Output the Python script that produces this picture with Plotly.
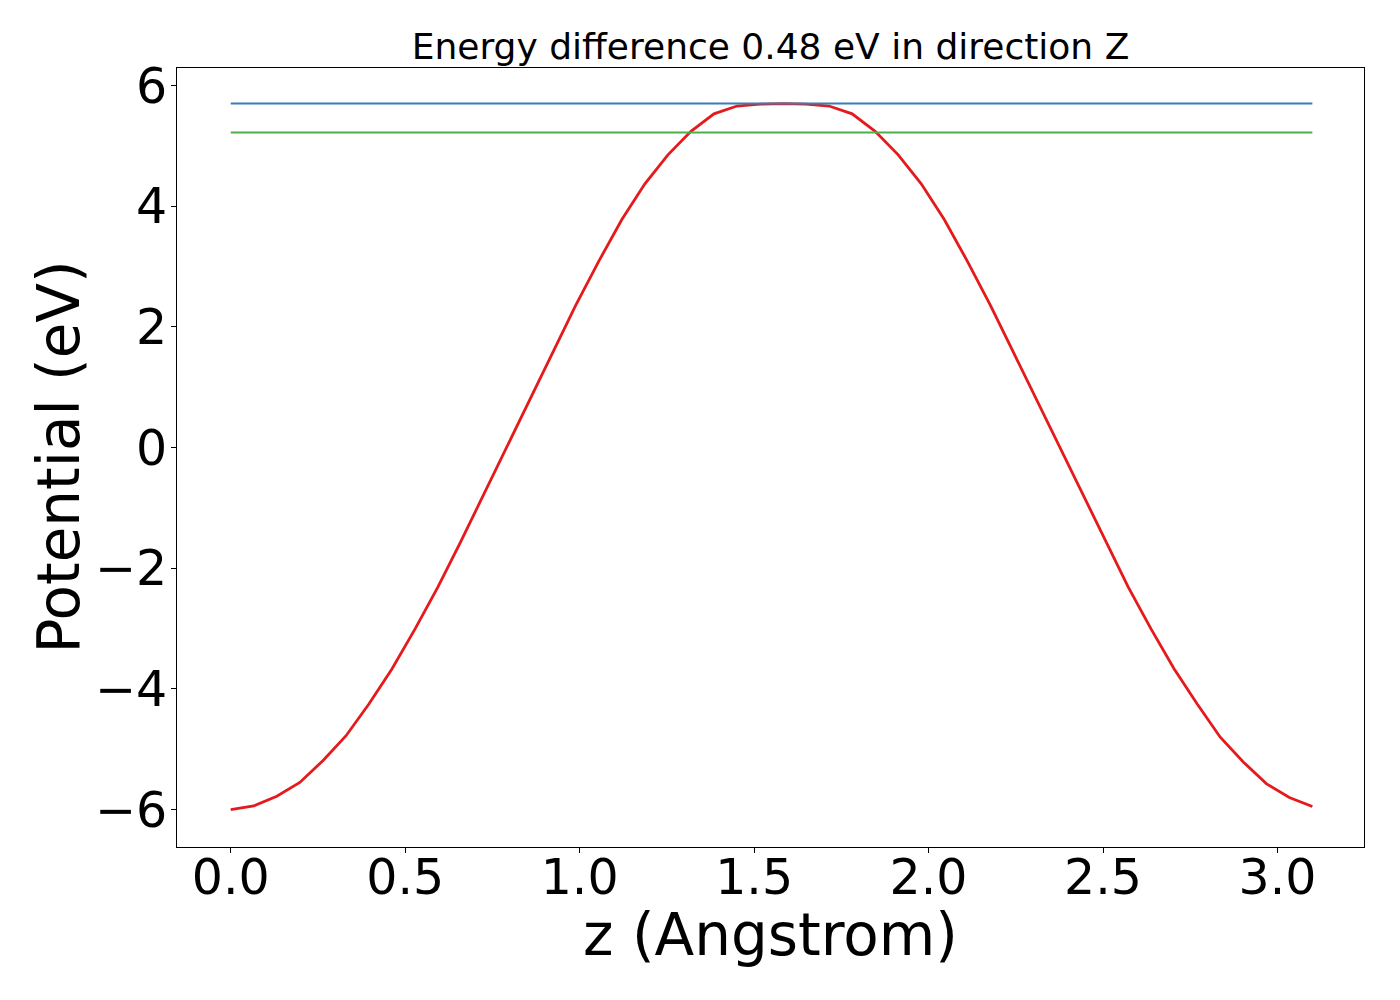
import plotly.graph_objects as go

# z grid (Angstrom) and potential (eV)
z = [0.000, 0.066, 0.132, 0.198, 0.264, 0.330, 0.396, 0.462, 0.528, 0.594,
     0.660, 0.726, 0.791, 0.857, 0.923, 0.989, 1.055, 1.121, 1.187, 1.253,
     1.319, 1.385, 1.451, 1.517, 1.583, 1.649, 1.715, 1.781, 1.847, 1.913,
     1.979, 2.045, 2.111, 2.177, 2.243, 2.309, 2.374, 2.440, 2.506, 2.572,
     2.638, 2.704, 2.770, 2.836, 2.902, 2.968, 3.034, 3.100]
potential = [-6.00, -5.94, -5.78, -5.55, -5.19, -4.78, -4.25, -3.67, -3.01, -2.31,
             -1.55, -0.77, 0.02, 0.80, 1.58, 2.36, 3.09, 3.78, 4.37, 4.85,
             5.24, 5.53, 5.66, 5.69, 5.70, 5.69, 5.66, 5.53, 5.24, 4.85,
             4.37, 3.78, 3.09, 2.36, 1.58, 0.80, 0.02, -0.77, -1.55, -2.31,
             -3.01, -3.67, -4.25, -4.80, -5.21, -5.57, -5.80, -5.95]

# horizontal reference levels
level_x = [0.0, 3.1]
max_level = [5.70, 5.70]
min_level = [5.22, 5.22]

FONT = "DejaVu Sans"

fig = go.Figure()
fig.add_trace(go.Scatter(x=z, y=potential, mode="lines",
                         line=dict(color="#e41a1c", width=2.8)))
fig.add_trace(go.Scatter(x=level_x, y=max_level, mode="lines",
                         line=dict(color="#377eb8", width=2)))
fig.add_trace(go.Scatter(x=level_x, y=min_level, mode="lines",
                         line=dict(color="#4daf4a", width=2)))

axis_common = dict(
    showgrid=False, zeroline=False, showline=True, mirror=True,
    linecolor="black", linewidth=1.1, ticks="outside", ticklen=5,
    tickwidth=1.1, tickcolor="black",
    tickfont=dict(family=FONT, size=49, color="black"),
)

# the page puts the figure 8px in from the top-left corner
fig.update_layout(
    width=1400, height=1000,
    margin=dict(l=169, r=44, t=60, b=161),
    paper_bgcolor="white", plot_bgcolor="white",
    showlegend=False,
    font=dict(family=FONT, color="black"),
    title=dict(text="Energy difference 0.48 eV in direction Z",
               x=(169 + 1356) / 2 / 1400, xanchor="center",
               y=0.962, yanchor="middle",
               font=dict(family=FONT, size=36, color="black")),
    xaxis=dict(range=[-0.154, 3.248], tickmode="linear", tick0=0, dtick=0.5,
               tickformat=".1f", ticklabelstandoff=-18, **axis_common),
    yaxis=dict(range=[-6.62, 6.29], tickmode="linear", tick0=0, dtick=2,
               ticklabelstandoff=-6, **axis_common),
    annotations=[
        dict(text="z (Angstrom)", xref="paper", yref="paper", x=0.5, y=0,
             xanchor="center", yanchor="middle", yshift=-88, showarrow=False,
             font=dict(family=FONT, size=58, color="black")),
        dict(text="Potential (eV)", xref="paper", yref="paper", x=0, y=0.5,
             xanchor="center", yanchor="middle", xshift=-119, textangle=-90,
             showarrow=False, font=dict(family=FONT, size=58, color="black")),
    ],
)

fig.write_html("out.html")
